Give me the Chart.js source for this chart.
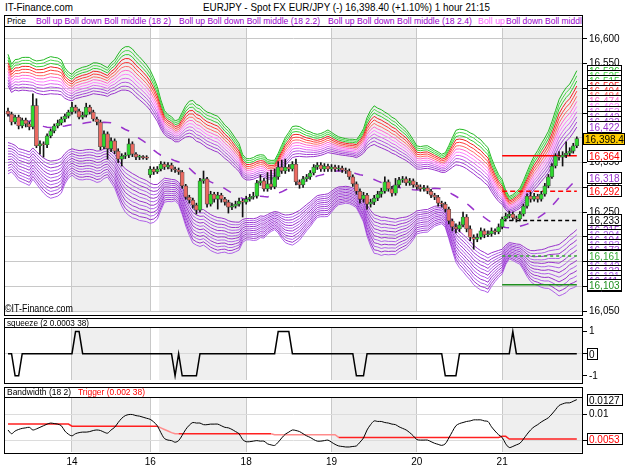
<!DOCTYPE html>
<html>
<head>
<meta charset="utf-8">
<script src="https://cdn.jsdelivr.net/npm/chart.js@4.4.0/dist/chart.umd.min.js"></script>
<style>
  html, body { margin: 0; padding: 0; background: #fff; }
  #wrap { position: relative; width: 625px; height: 469px; overflow: hidden; font-family: "Liberation Sans", Arial, sans-serif; }
  canvas { position: absolute; left: 0; z-index: 1; }
  .box { position: absolute; left: 4px; width: 577px; border: 1px solid #000; z-index: 2; overflow: hidden; pointer-events: none; }
  .hdr { position: absolute; left: 0; right: 0; top: 0; border-bottom: 1px solid #000; background: #fff; overflow: hidden; }
  .txt { position: absolute; white-space: nowrap; line-height: 1; transform-origin: 0 0; z-index: 3; }
</style>
</head>
<body>
<div id="wrap">
  <canvas id="main" width="625" height="300" style="top:20px"></canvas>
  <canvas id="sq" width="625" height="68" style="top:320px"></canvas>
  <canvas id="bw" width="625" height="80" style="top:389px"></canvas>
  <div class="box" style="top:15px;height:299px"><div class="hdr" id="hMain" style="height:10px"></div></div>
  <div class="box" style="top:318px;height:64px"><div class="hdr" id="hSq" style="height:8px"></div></div>
  <div class="box" style="top:387px;height:65px"><div class="hdr" id="hBw" style="height:9px"></div></div>
</div>
<script>
// hourly bars, day 13 06:00 .. day 21 21:00 (weekend skipped)
const dayLabels = ['14', '16', '18', '19', '20', '21'];
const dayStarts = [18, 40, 67, 91, 115, 139];

const opens = [
  16454,16448,16432,16442,16424,16436,16428,16422,16465,16384,
  16388,16386,16404,16414,16424,16430,16438,16444,16452,16462,
  16454,16442,16446,16462,16452,16438,16432,16382,16408,16378,
  16394,16373,16357,16363,16365,16388,16367,16361,16361,16360,
  16325,16337,16331,16337,16347,16341,16345,16337,16335,16331,
  16303,16280,16274,16264,16254,16313,16317,16266,16286,16276,
  16284,16276,16270,16260,16262,16266,16272,16270,16276,16280,
  16282,16309,16313,16297,16307,16301,16321,16341,16333,16341,
  16337,16347,16311,16305,16317,16321,16329,16341,16345,16337,
  16343,16337,16341,16337,16339,16335,16333,16321,16307,16292,
  16276,16284,16266,16270,16278,16286,16292,16311,16297,16288,
  16305,16315,16317,16309,16313,16305,16301,16297,16299,16292,
  16284,16280,16268,16266,16256,16232,16220,16216,16224,16240,
  16216,16199,16195,16199,16212,16204,16206,16212,16210,16220,
  16236,16242,16246,16238,16236,16246,16262,16282,16276,16282,
  16276,16286,16303,16321,16343,16363,16361,16365,16369,16373,
  16384
];
const closes = [
  16448,16432,16442,16424,16436,16428,16422,16465,16384,16388,
  16386,16404,16414,16424,16430,16438,16444,16452,16462,16454,
  16442,16446,16462,16452,16438,16432,16382,16408,16378,16394,
  16373,16357,16363,16365,16388,16367,16361,16361,16360,16359,
  16337,16331,16337,16347,16341,16345,16337,16335,16331,16303,
  16280,16274,16264,16254,16313,16317,16266,16286,16276,16284,
  16276,16270,16260,16262,16266,16272,16270,16276,16280,16282,
  16309,16313,16297,16307,16301,16321,16341,16333,16341,16337,
  16347,16311,16305,16317,16321,16329,16341,16345,16337,16343,
  16337,16341,16337,16339,16335,16333,16321,16307,16292,16276,
  16284,16266,16270,16278,16286,16292,16311,16297,16288,16305,
  16315,16317,16309,16313,16305,16301,16297,16299,16292,16284,
  16280,16268,16266,16256,16232,16220,16216,16224,16240,16216,
  16199,16195,16199,16212,16204,16206,16212,16210,16220,16236,
  16242,16246,16238,16236,16246,16262,16282,16276,16282,16276,
  16286,16303,16321,16343,16363,16361,16365,16369,16373,16384,
  16398.4
];
const highs = [
  16460,16452,16446,16446,16440,16440,16432,16489,16479,16394,
  16392,16408,16418,16428,16436,16442,16448,16456,16472,16466,
  16458,16452,16470,16466,16456,16442,16436,16414,16412,16400,
  16398,16378,16368,16370,16398,16392,16370,16365,16364,16364,
  16342,16341,16342,16352,16351,16350,16349,16341,16339,16334,
  16306,16284,16278,16268,16318,16333,16320,16292,16290,16290,
  16288,16280,16274,16268,16272,16278,16276,16282,16286,16290,
  16314,16325,16318,16330,16335,16337,16352,16355,16357,16346,
  16352,16357,16315,16322,16326,16334,16346,16350,16350,16348,
  16347,16346,16345,16344,16343,16339,16337,16325,16311,16297,
  16290,16288,16276,16284,16292,16298,16321,16315,16302,16318,
  16320,16322,16321,16318,16317,16310,16305,16304,16303,16296,
  16288,16284,16272,16270,16260,16236,16226,16230,16250,16245,
  16222,16204,16206,16218,16216,16212,16218,16216,16226,16240,
  16248,16252,16250,16242,16251,16266,16287,16290,16288,16286,
  16292,16308,16326,16348,16368,16372,16372,16392,16380,16389,
  16402
];
const lows = [
  16444,16426,16428,16418,16420,16422,16416,16418,16380,16367,
  16361,16380,16400,16410,16420,16426,16432,16440,16448,16450,
  16438,16438,16442,16448,16434,16426,16376,16378,16357,16372,
  16368,16350,16343,16358,16360,16362,16356,16356,16357,16356,
  16320,16326,16328,16333,16336,16337,16332,16330,16326,16298,
  16276,16268,16258,16246,16250,16308,16260,16262,16270,16256,
  16270,16264,16248,16255,16258,16262,16240,16266,16272,16276,
  16278,16304,16292,16292,16296,16297,16316,16328,16328,16332,
  16333,16305,16298,16300,16312,16316,16325,16336,16332,16332,
  16332,16332,16332,16333,16330,16328,16316,16302,16286,16268,
  16270,16256,16260,16265,16273,16280,16288,16292,16282,16284,
  16300,16310,16304,16304,16300,16296,16292,16292,16287,16279,
  16275,16262,16260,16250,16226,16212,16208,16210,16220,16210,
  16192,16175,16190,16195,16198,16200,16201,16205,16206,16216,
  16232,16238,16233,16230,16232,16242,16258,16270,16272,16270,
  16272,16282,16299,16318,16339,16355,16343,16360,16364,16369,
  16380
];
const bandwidth = [
  0.0070,0.0063,0.0068,0.0071,0.0073,0.0074,0.0075,0.0070,0.0072,0.0075,
  0.0078,0.0081,0.0083,0.0082,0.0081,0.0078,0.0068,0.0062,0.0059,0.0063,
  0.0065,0.0066,0.0066,0.0067,0.0069,0.0070,0.0069,0.0066,0.0064,0.0070,
  0.0075,0.0084,0.0092,0.0097,0.0099,0.0099,0.0097,0.0096,0.0094,0.0092,
  0.0090,0.0085,0.0078,0.0065,0.0054,0.0051,0.0050,0.0047,0.0050,0.0060,
  0.0071,0.0079,0.0084,0.0083,0.0083,0.0080,0.0080,0.0081,0.0081,0.0081,
  0.0078,0.0075,0.0074,0.0071,0.0067,0.0063,0.0052,0.0048,0.0048,0.0049,
  0.0050,0.0049,0.0049,0.0044,0.0042,0.0041,0.0047,0.0055,0.0062,0.0066,
  0.0070,0.0069,0.0067,0.0063,0.0059,0.0056,0.0052,0.0049,0.0049,0.0050,
  0.0051,0.0047,0.0043,0.0040,0.0039,0.0038,0.0038,0.0039,0.0040,0.0047,
  0.0055,0.0070,0.0080,0.0087,0.0086,0.0086,0.0084,0.0083,0.0081,0.0080,
  0.0076,0.0073,0.0070,0.0065,0.0059,0.0052,0.0051,0.0051,0.0051,0.0048,
  0.0045,0.0043,0.0041,0.0044,0.0055,0.0067,0.0078,0.0082,0.0084,0.0086,
  0.0087,0.0089,0.0089,0.0089,0.0087,0.0086,0.0076,0.0068,0.0061,0.0056,
  0.0044,0.0037,0.0039,0.0042,0.0045,0.0053,0.0062,0.0070,0.0076,0.0080,
  0.0085,0.0089,0.0093,0.0100,0.0108,0.0116,0.0119,0.0121,0.0121,0.0124,
  0.0127
];
const trigger = [
  0.0081,0.0081,0.0081,0.0081,0.0081,0.0081,0.0081,0.0081,0.0081,0.0081,
  0.0081,0.0081,0.0081,0.0081,0.0081,0.0081,0.0081,0.0081,0.0077,0.0077,
  0.0077,0.0077,0.0077,0.0077,0.0077,0.0077,0.0077,0.0077,0.0077,0.0077,
  0.0077,0.0077,0.0077,0.0077,0.0077,0.0077,0.0077,0.0077,0.0077,0.0077,
  0.0077,0.0077,0.0077,0.0074,0.0071,0.0068,0.0065,0.0063,0.0063,0.0063,
  0.0063,0.0063,0.0063,0.0063,0.0063,0.0063,0.0063,0.0063,0.0063,0.0063,
  0.0063,0.0063,0.0063,0.0063,0.0063,0.0063,0.0063,0.0063,0.0063,0.0063,
  0.0063,0.0063,0.0063,0.0063,0.0063,0.0061,0.0061,0.0061,0.0061,0.0061,
  0.0061,0.0061,0.0061,0.0061,0.0061,0.0061,0.0061,0.0061,0.0061,0.0061,
  0.0061,0.0061,0.0061,0.0056,0.0056,0.0056,0.0056,0.0056,0.0056,0.0056,
  0.0056,0.0056,0.0056,0.0056,0.0056,0.0056,0.0056,0.0056,0.0056,0.0056,
  0.0056,0.0056,0.0056,0.0056,0.0056,0.0056,0.0056,0.0056,0.0056,0.0056,
  0.0056,0.0056,0.0056,0.0056,0.0056,0.0056,0.0056,0.0056,0.0056,0.0056,
  0.0056,0.0056,0.0056,0.0056,0.0056,0.0056,0.0056,0.0056,0.0056,0.0058,
  0.0058,0.0053,0.0053,0.0053,0.0053,0.0053,0.0053,0.0053,0.0053,0.0053,
  0.0053,0.0053,0.0053,0.0053,0.0053,0.0053,0.0053,0.0053,0.0053,0.0053,
  0.0053
];
const squeeze = [
  0,0,-1,-1,0,0,0,0,0,0,
  0,0,0,0,0,0,0,0,0,1,
  1,0,0,0,0,0,0,0,0,0,
  0,0,0,0,0,0,0,0,0,0,
  0,0,0,0,0,0,0,-1,0,-1,
  -1,-1,-1,-1,0,0,0,0,0,0,
  0,0,0,0,0,0,0,0,0,0,
  0,0,0,0,0,0,1,1,1,1,
  0,0,0,0,0,0,0,0,0,0,
  0,0,0,0,0,0,0,0,-1,-1,
  -1,0,0,0,0,0,0,0,0,0,
  0,0,0,0,0,0,0,0,0,0,
  0,0,0,-1,-1,-1,-1,0,0,0,
  0,0,0,0,0,0,0,0,0,0,
  0,0,1,0,0,0,0,0,0,0,
  0,0,0,0,0,0,0,0,0,0,
  0
];
const bollFactors = [2, 2.2, 2.4, 2.6, 2.8, 3, 3.2, 3.4, 3.6, 3.8, 4, 4.2];
const levelValues = [16364, 16292, 16233, 16161, 16103];
const priceTicks = [16050, 16100, 16150, 16200, 16250, 16300, 16350, 16400, 16450, 16500, 16550, 16600];
const squeezeTicks = [-1, 0, 1];
const bwTicks = [0.005, 0.01];

const FONT = '"Liberation Sans", Arial, sans-serif';
const PURPLE = '#9933cc';
const upColors = ['#9933cc', '#a545d6', '#b455e0', '#dd66ee', '#ff7fff', '#ff66cc',
                  '#ff6666', '#ff3b3b', '#ee1f1f', '#33cc33', '#4ad84a', '#22b822'];
const levelStyles = [
  { color: '#ff0000', dash: [] },
  { color: '#ff0000', dash: [5, 3] },
  { color: '#000000', dash: [4, 3] },
  { color: '#33aa33', dash: [3, 3] },
  { color: '#1f8f1f', dash: [] }
];
const shadeRanges = [[18, 40], [42.5, 67], [91, 115], [139, 161.5]];

Chart.defaults.font.family = FONT;
Chart.defaults.animation = false;

// Bollinger middle (18) from the closes, band width from the bandwidth panel
const PERIOD = 18;
const middle = closes.map((c, i) => {
  const w = closes.slice(Math.max(0, i - PERIOD + 1), i + 1);
  return w.reduce((a, b) => a + b, 0) / w.length;
});
const sigma = middle.map((m, i) => bandwidth[i] * m / 4);
const last = closes.length - 1;
const xy = arr => arr.map((v, i) => ({ x: i, y: v }));

const shadePlugin = {
  id: 'shade',
  beforeDraw(chart) {
    const { ctx, chartArea: a, scales: { x } } = chart;
    ctx.save();
    ctx.fillStyle = '#efefef';
    shadeRanges.forEach(([s, e]) => {
      const x0 = Math.max(a.left, x.getPixelForValue(s));
      const x1 = Math.min(a.right, x.getPixelForValue(e));
      ctx.fillRect(x0, a.top, x1 - x0, a.bottom - a.top);
    });
    ctx.restore();
  }
};

function boxPlugin(items) {
  return {
    id: 'valueBoxes',
    afterDraw(chart) {
      const { ctx, scales: { y } } = chart;
      ctx.save();
      ctx.font = '10px ' + FONT;
      ctx.textBaseline = 'middle';
      items.forEach(b => {
        const py = Math.round(y.getPixelForValue(b.value));
        const w = b.w || 35, left = b.left || 587, h = 12;
        ctx.fillStyle = b.bg || '#fff';
        ctx.fillRect(left, py - 6, w, h);
        ctx.strokeStyle = '#000';
        ctx.lineWidth = 1;
        ctx.strokeRect(left + 0.5, py - 5.5, w - 1, h - 1);
        ctx.fillStyle = b.color;
        ctx.fillText(b.text, left + 2, py + 1);
      });
      ctx.restore();
    }
  };
}

function xScale(showLabels) {
  return {
    type: 'linear', min: -0.84, max: 161.46, offset: false,
    afterBuildTicks: s => { s.ticks = dayStarts.map(v => ({ value: v })); },
    afterFit: s => { s.height = showLabels ? 17 : 0; },
    grid: { color: '#c8c8c8', drawTicks: false, offset: false },
    border: { display: false },
    ticks: {
      display: showLabels, color: '#000', font: { size: 10 }, padding: 4, maxRotation: 0,
      callback: v => dayLabels[dayStarts.indexOf(v)]
    }
  };
}

function yScale(min, max, ticks, fmt, gridColor) {
  return {
    type: 'linear', position: 'right', min, max,
    afterBuildTicks: s => { s.ticks = ticks.map(v => ({ value: v })); },
    afterFit: s => { s.width = 43; },
    grid: { color: gridColor || '#c8c8c8', tickColor: '#000', tickLength: 5 },
    border: { display: false },
    ticks: { color: '#000', font: { size: 10 }, padding: 2, callback: fmt }
  };
}

const fmtPrice = v => v.toLocaleString('en-US', { maximumFractionDigits: 0 });

// ---- main price panel ----
const green = '#2fd82f', red = '#ea6a62';
const mainSets = [
  {
    type: 'bar', label: 'body', grouped: false, barThickness: 4, minBarLength: 1,
    data: closes.map((c, i) => ({ x: i, y: [opens[i], c] })),
    backgroundColor: ctx => closes[ctx.dataIndex] >= opens[ctx.dataIndex] ? green : red,
    borderColor: '#4a4a4a', borderWidth: 0.7, borderSkipped: false
  },
  {
    type: 'bar', label: 'wick', grouped: false, barThickness: 1,
    data: closes.map((c, i) => ({ x: i, y: [lows[i], highs[i]] })),
    backgroundColor: '#111'
  }
];
levelValues.forEach((v, k) => {
  mainSets.push({
    type: 'line', data: [{ x: dayStarts[dayStarts.length - 1], y: v }, { x: last, y: v }],
    borderColor: levelStyles[k].color, borderDash: levelStyles[k].dash, borderWidth: 1.5, pointRadius: 0
  });
});
mainSets.push({
  type: 'line', data: xy(middle), borderColor: PURPLE, borderWidth: 1.5,
  borderDash: [9, 11], pointRadius: 0, tension: 0
});
bollFactors.forEach((k, j) => {
  mainSets.push({
    type: 'line', data: xy(middle.map((m, i) => m + k * sigma[i])),
    borderColor: upColors[j], borderWidth: 1, pointRadius: 0
  });
  mainSets.push({
    type: 'line', data: xy(middle.map((m, i) => m - k * sigma[i])),
    borderColor: j % 2 ? '#b060e8' : PURPLE, borderWidth: 1, pointRadius: 0
  });
});

const mainBoxes = [];
for (let j = bollFactors.length - 1; j >= 0; j--) {
  const v = middle[last] + bollFactors[j] * sigma[last];
  mainBoxes.push({ value: v, text: fmtPrice(v), color: upColors[j] });
}
bollFactors.forEach((k, j) => {
  const v = middle[last] - k * sigma[last];
  mainBoxes.push({ value: v, text: fmtPrice(v), color: j % 2 ? '#b060e8' : PURPLE });
});
mainBoxes.push({ value: middle[last], text: fmtPrice(middle[last]), color: PURPLE });
levelValues.forEach((v, k) => mainBoxes.push({ value: v, text: fmtPrice(v), color: levelStyles[k].color }));
mainBoxes.push({ value: closes[last], text: closes[last].toLocaleString('en-US', { minimumFractionDigits: 1 }),
                 color: '#000', bg: '#ffcc00', w: 42, left: 583 });

new Chart(document.getElementById('main'), {
  type: 'bar',
  data: { datasets: mainSets },
  options: {
    responsive: false, animation: false,
    layout: { padding: { left: 5, top: 7, bottom: 6, right: 0 }, autoPadding: false },
    plugins: { legend: { display: false }, tooltip: { enabled: false } },
    scales: { x: xScale(false), y: yScale(16048, 16622, priceTicks, fmtPrice) }
  },
  plugins: [shadePlugin, boxPlugin(mainBoxes)]
});

// ---- squeeze panel ----
new Chart(document.getElementById('sq'), {
  type: 'line',
  data: { datasets: [{ data: xy(squeeze), borderColor: '#000', borderWidth: 1.5, pointRadius: 0 }] },
  options: {
    responsive: false, animation: false,
    layout: { padding: { left: 5, top: 8, bottom: 6, right: 0 }, autoPadding: false },
    plugins: { legend: { display: false }, tooltip: { enabled: false } },
    scales: {
      x: xScale(false),
      y: Object.assign(yScale(-1.19, 1.16, squeezeTicks, v => String(v)),
        { grid: { color: c => c.tick && c.tick.value === 0 ? '#d8d8d8' : 'rgba(0,0,0,0)', tickColor: '#000', tickLength: 5 } })
    }
  },
  plugins: [shadePlugin, boxPlugin([{ value: squeeze[last], text: String(squeeze[last]), color: '#000', w: 11 }])]
});

// ---- bandwidth panel ----
const triggerFaded = [[42, 48], [74, 93]];
new Chart(document.getElementById('bw'), {
  type: 'line',
  data: {
    datasets: [
      { data: xy(bandwidth), borderColor: '#000', borderWidth: 1, pointRadius: 0, tension: 0.3 },
      { data: xy(trigger), borderColor: '#ff2020', borderWidth: 1.5, pointRadius: 0,
        segment: { borderColor: c => triggerFaded.some(([s, e]) => c.p0DataIndex >= s && c.p1DataIndex <= e) ? '#ff8c8c' : undefined } }
    ]
  },
  options: {
    responsive: false, animation: false,
    layout: { padding: { left: 5, top: 9, bottom: 0, right: 0 }, autoPadding: false },
    plugins: { legend: { display: false }, tooltip: { enabled: false } },
    scales: { x: xScale(true), y: yScale(0.00286, 0.01301, bwTicks, v => String(v), '#dcdcdc') }
  },
  plugins: [shadePlugin, boxPlugin([
    { value: trigger[last], text: trigger[last].toFixed(4), color: '#ff0000', w: 36 },
    { value: bandwidth[last], text: bandwidth[last].toFixed(4), color: '#000', w: 36 }
  ])]
});

// ---- texts ----
const wrap = document.getElementById('wrap');
function addText(parent, t) {
  const el = document.createElement('span');
  el.className = 'txt';
  el.textContent = t.text;
  el.style.left = t.left + 'px';
  el.style.top = t.top + 'px';
  el.style.fontSize = t.size + 'px';
  el.style.color = t.color || '#000';
  parent.appendChild(el);
  if (t.width) el.style.transform = 'scaleX(' + (t.width / el.getBoundingClientRect().width) + ')';
}
addText(wrap, { text: 'IT-Finance.com', left: 5, top: 2, size: 11, width: 68 });
addText(wrap, { text: 'EURJPY - Spot FX EUR/JPY (-)     16,398.40 (+1.10%)     1 hour  21:15', left: 203, top: 2, size: 11, width: 287 });
addText(wrap, { text: '\u00A9IT-Finance.com', left: 5, top: 304, size: 10, width: 68 });

const hMain = document.getElementById('hMain');
addText(hMain, { text: 'Price', left: 2, top: 1, size: 9, width: 19 });
addText(hMain, { text: 'Boll up Boll down Boll middle (18 2)', left: 31, top: 1, size: 9, color: '#9900cc', width: 135 });
addText(hMain, { text: 'Boll up Boll down Boll middle (18 2.2)', left: 174, top: 1, size: 9, color: '#9900cc', width: 141 });
addText(hMain, { text: 'Boll up Boll down Boll middle (18 2.4)', left: 323, top: 1, size: 9, color: '#9900cc', width: 144 });
addText(hMain, { text: 'Boll up', left: 473, top: 1, size: 9, color: '#ff66ff', width: 27 });
addText(hMain, { text: 'Boll down Boll middle (18 2.6)', left: 501, top: 1, size: 9, color: '#9900cc', width: 112 });

addText(document.getElementById('hSq'), { text: 'squeeze (2 0.0003 38)', left: 2, top: 0, size: 9, width: 82 });
addText(document.getElementById('hBw'), { text: 'Bandwidth (18 2)', left: 2, top: 0, size: 9, width: 64 });
addText(document.getElementById('hBw'), { text: 'Trigger (0.002 38)', left: 73, top: 0, size: 9, color: '#ff0000', width: 67 });
</script>
</body>
</html>
